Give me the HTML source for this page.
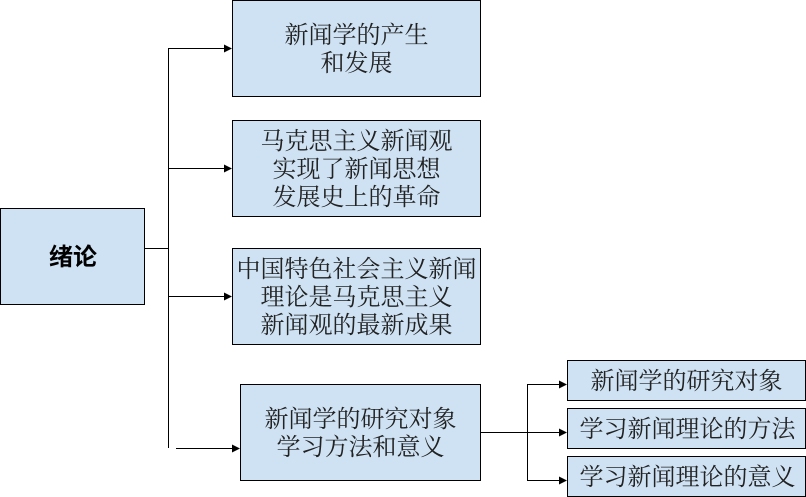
<!DOCTYPE html>
<html lang="zh-CN">
<head>
<meta charset="utf-8">
<style>
html,body{margin:0;padding:0;background:#fff;width:806px;height:497px;overflow:hidden}
svg{display:block}
rect{fill:#cfe2f3;stroke:#000;stroke-width:1}
line{stroke:#000;stroke-width:1;shape-rendering:crispEdges}
polygon{fill:#000}
text{font-family:"Noto Serif CJK SC","Liberation Serif",serif;font-size:24px;fill:#222;text-anchor:middle;dominant-baseline:central}
</style>
</head>
<body>
<svg width="806" height="497" viewBox="0 0 806 497" xmlns="http://www.w3.org/2000/svg">
<rect x="0.5" y="208.5" width="144" height="96"/>
<rect x="232.5" y="0.5" width="248" height="96"/>
<rect x="232.5" y="120.5" width="248" height="96"/>
<rect x="232.5" y="248.5" width="248" height="96"/>
<rect x="240.5" y="384.5" width="240" height="96"/>
<rect x="567.5" y="360.5" width="238" height="40"/>
<rect x="567.5" y="408.5" width="238" height="40"/>
<rect x="567.5" y="456.5" width="238" height="40"/>

<line x1="144" y1="248.5" x2="169" y2="248.5"/>
<line x1="168.5" y1="48" x2="168.5" y2="448"/>
<line x1="168" y1="48.5" x2="226" y2="48.5"/>
<line x1="168" y1="168.5" x2="226" y2="168.5"/>
<line x1="168" y1="296.5" x2="226" y2="296.5"/>
<line x1="176" y1="448.5" x2="234" y2="448.5"/>
<polygon points="224,44.5 232,48.5 224,52.5"/>
<polygon points="224,164.5 232,168.5 224,172.5"/>
<polygon points="224,292.5 232,296.5 224,300.5"/>
<polygon points="232,444.5 240,448.5 232,452.5"/>

<line x1="480" y1="432.5" x2="561" y2="432.5"/>
<line x1="527.5" y1="384" x2="527.5" y2="481"/>
<line x1="527" y1="384.5" x2="561" y2="384.5"/>
<line x1="527" y1="480.5" x2="561" y2="480.5"/>
<polygon points="559,380.5 567,384.5 559,388.5"/>
<polygon points="559,428.5 567,432.5 559,436.5"/>
<polygon points="559,476.5 567,480.5 559,484.5"/>

<text x="73" y="254.5" style="font-family:'Noto Sans CJK SC','Liberation Sans',sans-serif;font-weight:bold;font-size:24px;fill:#000">绪论</text>
<text x="356.5" y="32.5">新闻学的产生</text>
<text x="356.5" y="60.5">和发展</text>
<text x="356.5" y="138.5">马克思主义新闻观</text>
<text x="356.5" y="166.5">实现了新闻思想</text>
<text x="356.5" y="194.5">发展史上的革命</text>
<text x="356.5" y="266.5">中国特色社会主义新闻</text>
<text x="356.5" y="294.5">理论是马克思主义</text>
<text x="356.5" y="322.5">新闻观的最新成果</text>
<text x="360.5" y="416.5">新闻学的研究对象</text>
<text x="360.5" y="444.5">学习方法和意义</text>
<text x="686.5" y="378.5">新闻学的研究对象</text>
<text x="687.5" y="426.5">学习新闻理论的方法</text>
<text x="687.5" y="474.5">学习新闻理论的意义</text>
</svg>
</body>
</html>
